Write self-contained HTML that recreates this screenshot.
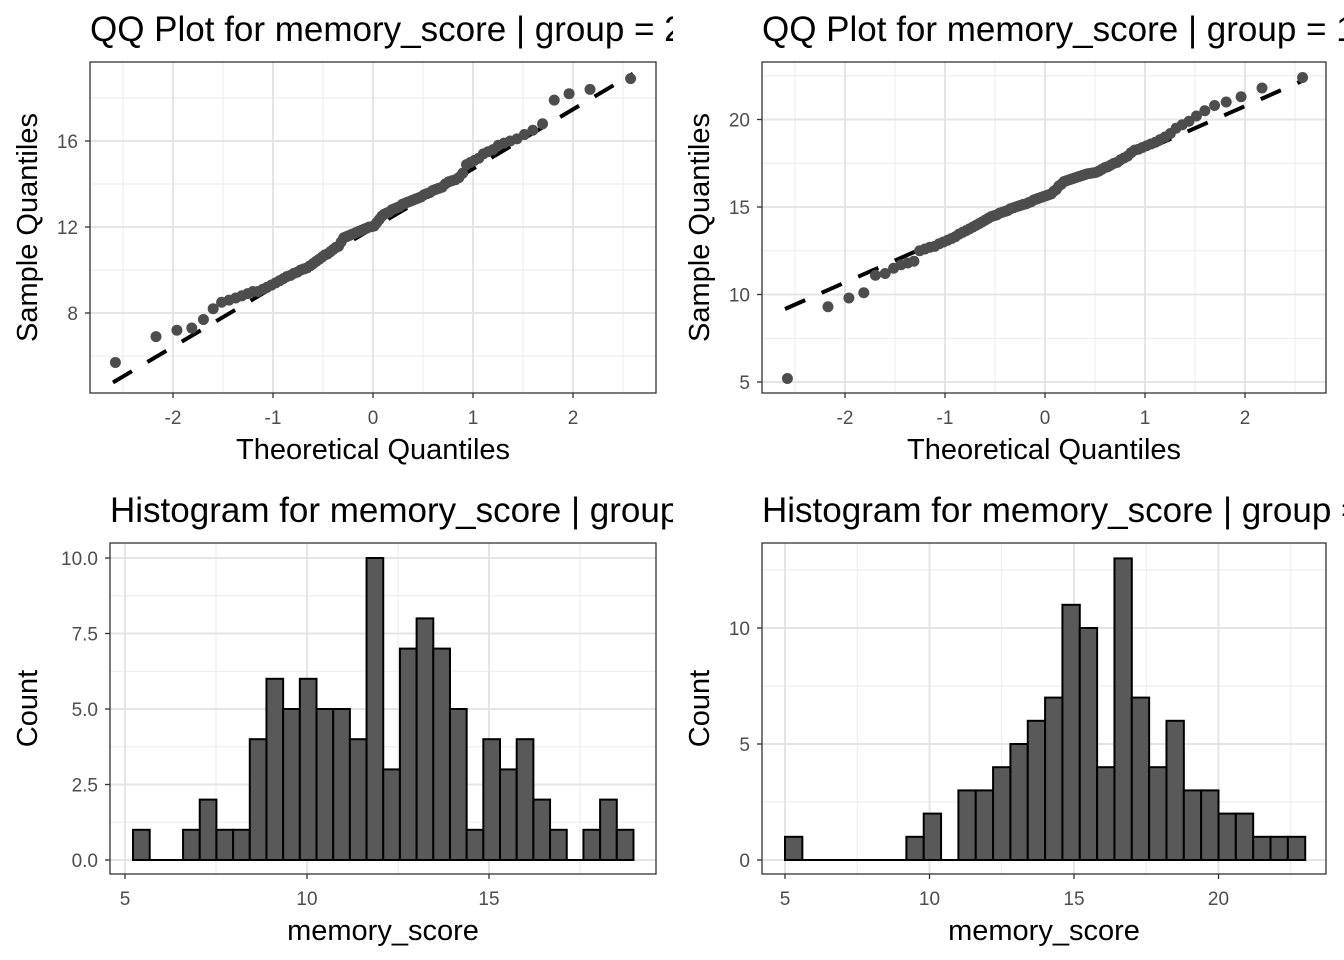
<!DOCTYPE html>
<html><head><meta charset="utf-8"><style>
body{margin:0;background:#fff}
svg{display:block;font-family:"Liberation Sans",Arial,sans-serif}
</style></head><body>
<svg id="c" width="1344" height="960" viewBox="0 0 1344 960"></svg>
<script>
const sampleG2=[5.7,6.9,7.2,7.3,7.7,8.2,8.5,8.6,8.7,8.8,8.9,9.0,9.0,9.1,9.2,9.3,9.4,9.5,9.6,9.7,9.75,9.85,9.9,10.0,10.05,10.1,10.2,10.3,10.4,10.5,10.6,10.7,10.75,10.85,10.95,11.05,11.1,11.3,11.5,11.55,11.6,11.65,11.7,11.75,11.8,11.85,11.9,11.95,12.0,12.02,12.05,12.2,12.35,12.5,12.6,12.65,12.7,12.8,12.85,12.9,12.95,13.05,13.1,13.15,13.2,13.25,13.3,13.35,13.4,13.5,13.55,13.6,13.7,13.75,13.8,13.85,14.0,14.1,14.15,14.2,14.3,14.5,14.9,15.0,15.1,15.2,15.4,15.5,15.6,15.8,15.9,16.0,16.1,16.3,16.5,16.8,17.9,18.2,18.4,18.9];
const sampleG1=[5.2,9.3,9.8,10.1,11.1,11.2,11.5,11.7,11.8,11.9,12.5,12.6,12.7,12.75,12.9,13.0,13.1,13.2,13.3,13.45,13.55,13.65,13.75,13.85,13.95,14.05,14.15,14.25,14.35,14.45,14.5,14.55,14.65,14.7,14.75,14.8,14.9,14.95,15.0,15.05,15.1,15.15,15.18,15.25,15.3,15.4,15.45,15.5,15.55,15.6,15.65,15.7,15.75,15.9,16.0,16.2,16.3,16.45,16.5,16.55,16.6,16.65,16.7,16.75,16.8,16.85,16.9,16.92,16.95,16.98,17.05,17.15,17.25,17.3,17.4,17.5,17.55,17.7,17.8,17.9,18.1,18.25,18.3,18.4,18.5,18.6,18.7,18.85,19.0,19.2,19.5,19.7,19.9,20.2,20.5,20.8,21.0,21.3,21.8,22.4];
const histG2Counts=[1,0,0,1,2,1,1,4,6,5,6,5,5,4,10,3,7,8,7,5,1,4,3,4,2,1,0,1,2,1];
const histG2Start=5.22, histG2Width=0.4583;
const histG1Counts=[1,0,0,0,0,0,0,1,2,0,3,3,4,5,6,7,11,10,4,13,7,4,6,3,3,2,2,1,1,1];
const histG1Start=5.0, histG1Width=0.6;
const qqXTicks=[-2,-1,0,1,2];
const qqG2YTicks=[8,12,16];
const qqG1YTicks=[5,10,15,20];
const histG2XTicks=[5,10,15];
const histG2YTicks=["0.0","2.5","5.0","7.5","10.0"];
const histG1XTicks=[5,10,15,20];
const histG1YTicks=[0,5,10];

const svg=document.getElementById('c');
const NS='http://www.w3.org/2000/svg';
function mk(tag,attrs,parent){const e=document.createElementNS(NS,tag);for(const k in attrs)e.setAttribute(k,attrs[k]);(parent||svg).appendChild(e);return e;}
function txt(s,attrs,name,parent){const t=mk('text',attrs,parent);t.textContent=s;return t;}

function qnorm(p){const a=[-39.69683028665376,220.9460984245205,-275.9285104469687,138.357751867269,-30.66479806614716,2.506628277459239],b=[-54.47609879822406,161.5853275704323,-155.6989798598866,66.80131188771972,-13.28068155288572],c=[-0.007784894002430293,-0.3223964580411365,-2.400758277161838,-2.549732539343734,4.374664141464968,2.938163982698783],d=[0.007784695709041462,0.3224671290700398,2.445134137142996,3.754408661907416];const pl=0.02425;let q,r;if(p<pl){q=Math.sqrt(-2*Math.log(p));return(((((c[0]*q+c[1])*q+c[2])*q+c[3])*q+c[4])*q+c[5])/((((d[0]*q+d[1])*q+d[2])*q+d[3])*q+1);}if(p>1-pl){q=Math.sqrt(-2*Math.log(1-p));return-(((((c[0]*q+c[1])*q+c[2])*q+c[3])*q+c[4])*q+c[5])/((((d[0]*q+d[1])*q+d[2])*q+d[3])*q+1);}q=p-0.5;r=q*q;return(((((a[0]*r+a[1])*r+a[2])*r+a[3])*r+a[4])*r+a[5])*q/(((((b[0]*r+b[1])*r+b[2])*r+b[3])*r+b[4])*r+1);}
function quant(arr,p){const s=[...arr].sort((a,b)=>a-b);const h=(s.length-1)*p;const l=Math.floor(h);return s[l]+(h-l)*(s[Math.min(l+1,s.length-1)]-s[l]);}

const defs=mk('defs',{});
function panel(P,pname){
  const g=mk('g',{});
  const clipId='clip-'+pname;
  const cp=mk('clipPath',{id:clipId},defs);mk('rect',{x:P.x0,y:P.y0,width:P.x1-P.x0,height:P.y1-P.y0},cp);
  const tc=mk('clipPath',{id:clipId+'-t'},defs);mk('rect',{x:P.titleX-20,y:0,width:P.titleClip-P.titleX+20,height:960},tc);
  const gg=mk('g',{},g);
  const xt=P.xTicks.map(Number), yt=P.yTicks.map(Number);
  const xm=[xt[0]-(xt[1]-xt[0])/2,...xt.slice(0,-1).map((v,i)=>(v+xt[i+1])/2),xt[xt.length-1]+(xt[1]-xt[0])/2];
  const ym=[yt[0]-(yt[1]-yt[0])/2,...yt.slice(0,-1).map((v,i)=>(v+yt[i+1])/2),yt[yt.length-1]+(yt[1]-yt[0])/2];
  xm.forEach(v=>{const X=P.sx(v);if(X>P.x0&&X<P.x1)mk('line',{x1:X,x2:X,y1:P.y0,y2:P.y1,stroke:'#ebebeb','stroke-width':1},gg);});
  ym.forEach(v=>{const Y=P.sy(v);if(Y>P.y0&&Y<P.y1)mk('line',{x1:P.x0,x2:P.x1,y1:Y,y2:Y,stroke:'#ebebeb','stroke-width':1},gg);});
  xt.forEach(v=>{const X=P.sx(v);mk('line',{x1:X,x2:X,y1:P.y0,y2:P.y1,stroke:'#e5e5e5','stroke-width':2},gg);});
  yt.forEach(v=>{const Y=P.sy(v);mk('line',{x1:P.x0,x2:P.x1,y1:Y,y2:Y,stroke:'#e5e5e5','stroke-width':2},gg);});
  const data=mk('g',{'clip-path':'url(#'+clipId+')'},g);
  P.draw(data);
  const fr=mk('rect',{x:P.x0,y:P.y0,width:P.x1-P.x0,height:P.y1-P.y0,fill:'none',stroke:'#333','stroke-width':1.3},g);
  
  const xa=mk('g',{},g);
  P.xTicks.forEach(v=>{const X=P.sx(Number(v));mk('line',{x1:X,x2:X,y1:P.y1,y2:P.y1+5,stroke:'#333','stroke-width':1.3},xa);txt(String(v),{x:X,y:P.y1+31,'text-anchor':'middle','font-size':19,fill:'#4d4d4d'},'x-tick-label',xa);});
  const ya=mk('g',{},g);
  P.yTicks.forEach(v=>{const Y=P.sy(Number(v));mk('line',{x1:P.x0-5,x2:P.x0,y1:Y,y2:Y,stroke:'#333','stroke-width':1.3},ya);txt(String(v),{x:P.x0-12,y:Y+7,'text-anchor':'end','font-size':19,fill:'#4d4d4d'},'y-tick-label',ya);});
  txt(P.xTitle,{x:(P.x0+P.x1)/2,y:P.y1+66,'text-anchor':'middle','font-size':29,fill:'#000'},'x-axis-title',g);
  const cy=(P.y0+P.y1)/2;
  txt(P.yTitle,{x:P.yTitleX,y:cy,'text-anchor':'middle','font-size':29,fill:'#000',transform:'rotate(-90 '+P.yTitleX+' '+cy+')'},'y-axis-title',g);
  txt(P.title,{x:P.titleX,y:P.y0-21,'font-size':35,fill:'#000','clip-path':'url(#'+clipId+'-t)'},'panel-title',g);
}

function qqDraw(sample,sx,sy){return function(g){
  const n=sample.length;
  const q1=quant(sample,0.25),q3=quant(sample,0.75),t1=qnorm(0.25),t3=qnorm(0.75);
  const slope=(q3-q1)/(t3-t1),icpt=q1-slope*t1;
  const xa=-2.6,xb=2.6;
  const ln=mk('line',{x1:sx(xa),y1:sy(icpt+slope*xa),x2:sx(xb),y2:sy(icpt+slope*xb),stroke:'#000','stroke-width':4,'stroke-dasharray':'22 18'},g);
  
  const s=[...sample].sort((a,b)=>a-b);
  s.forEach((v,i)=>{const t=qnorm((i+1-0.5)/n);
    const c=mk('circle',{cx:sx(t),cy:sy(v),r:5.5,fill:'#4d4d4d'},g);
    
    });
};}
function histDraw(counts,start,w,sx,sy){return function(g){
  counts.forEach((c,i)=>{const a=sx(start+i*w),b=sx(start+(i+1)*w);
    const h=Math.max(sy(0)-sy(c),0.01);
    const r=mk('rect',{x:a,y:sy(0)-h,width:b-a,height:h,fill:'#595959',stroke:'#000','stroke-width':2},g);
    
    
    if(c===0){const l=mk('line',{x1:a,x2:b,y1:sy(0),y2:sy(0),stroke:'#000','stroke-width':2},g);
      
      }});
};}

const tl={x0:90,x1:656,y0:62,y1:393,sx:v=>373+v*100,sy:v=>227-(v-12)*21.5};
panel(Object.assign(tl,{xTicks:qqXTicks,yTicks:qqG2YTicks,xTitle:'Theoretical Quantiles',yTitle:'Sample Quantiles',yTitleX:37,title:'QQ Plot for memory_score | group = 2',titleX:90,titleClip:673,draw:qqDraw(sampleG2,tl.sx,tl.sy)}),'qq-plot-group-2');
const tr={x0:762,x1:1326,y0:62,y1:393,sx:v=>1045+v*100,sy:v=>207-(v-15)*17.5};
panel(Object.assign(tr,{xTicks:qqXTicks,yTicks:qqG1YTicks,xTitle:'Theoretical Quantiles',yTitle:'Sample Quantiles',yTitleX:709,title:'QQ Plot for memory_score | group = 1',titleX:762,titleClip:1344,draw:qqDraw(sampleG1,tr.sx,tr.sy)}),'qq-plot-group-1');
const bl={x0:110,x1:656,y0:543,y1:874,sx:v=>125+(v-5)*36.4,sy:v=>860-v*30.2};
panel(Object.assign(bl,{xTicks:histG2XTicks,yTicks:histG2YTicks,xTitle:'memory_score',yTitle:'Count',yTitleX:37,title:'Histogram for memory_score | group = 2',titleX:110,titleClip:673,draw:histDraw(histG2Counts,histG2Start,histG2Width,bl.sx,bl.sy)}),'histogram-group-2');
const br={x0:762,x1:1326,y0:543,y1:874,sx:v=>785+(v-5)*28.9,sy:v=>860-v*23.2};
panel(Object.assign(br,{xTicks:histG1XTicks,yTicks:histG1YTicks,xTitle:'memory_score',yTitle:'Count',yTitleX:709,title:'Histogram for memory_score | group = 1',titleX:762,titleClip:1344,draw:histDraw(histG1Counts,histG1Start,histG1Width,br.sx,br.sy)}),'histogram-group-1');
</script>
</body></html>
